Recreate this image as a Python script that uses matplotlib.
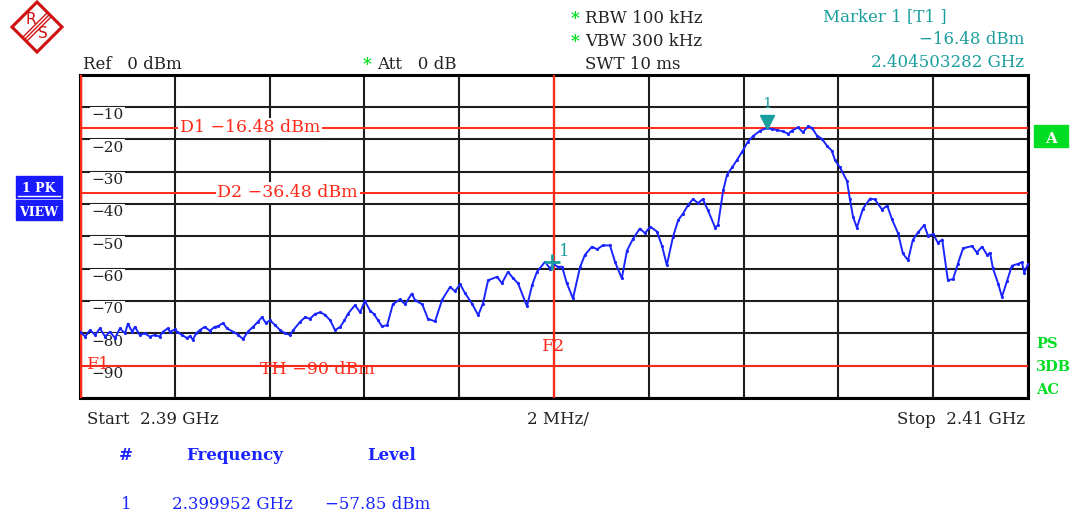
import matplotlib
matplotlib.use("Agg")
import matplotlib.pyplot as plt
from matplotlib.patches import Polygon, Rectangle
from matplotlib.lines import Line2D
from matplotlib.transforms import ScaledTranslation

plt.rcParams['font.family'] = ['DejaVu Serif']
plt.rcParams['font.size'] = 12

# span 2.39 GHz .. 2.41 GHz, offsets in MHz from start
f_start = 2390.0
f_stop = 2410.0
trace_off = [
    0.00, 0.11, 0.21, 0.32, 0.42, 0.53, 0.63, 0.74, 0.84, 0.95, 1.01, 1.10, 1.16, 1.26,
    1.37, 1.47, 1.58, 1.68, 1.75, 1.85, 1.90, 2.00, 2.05, 2.15, 2.26, 2.32, 2.38, 2.45,
    2.53, 2.63, 2.74, 2.84, 2.91, 3.02, 3.10, 3.23, 3.34, 3.44, 3.54, 3.65, 3.75, 3.84,
    3.92, 4.01, 4.12, 4.22, 4.33, 4.43, 4.50, 4.64, 4.75, 4.85, 4.96,
    5.07, 5.17, 5.28, 5.38, 5.49, 5.58, 5.65, 5.80, 5.91, 6.01, 6.12, 6.20, 6.29, 6.37,
    6.48, 6.60, 6.75, 6.86, 7.00, 7.07, 7.22, 7.34, 7.49, 7.64, 7.81, 7.91, 8.02, 8.12,
    8.27, 8.40, 8.50, 8.61, 8.80, 8.90, 9.03, 9.14, 9.24, 9.43, 9.54, 9.64, 9.81, 9.92,
    9.98, 10.08, 10.17, 10.27, 10.40, 10.55, 10.65, 10.80, 10.91, 11.03, 11.18, 11.29,
    11.43, 11.54, 11.67, 11.81, 11.92, 12.03, 12.17, 12.28, 12.38, 12.51, 12.62, 12.72,
    12.83, 12.93, 13.04, 13.14, 13.25, 13.40, 13.46, 13.57, 13.65, 13.76, 13.86, 13.97,
    14.09, 14.20, 14.35, 14.49, 14.60, 14.70, 14.83, 14.94, 15.02, 15.15, 15.25, 15.36,
    15.44, 15.55, 15.65, 15.76, 15.86, 15.93, 16.03, 16.18, 16.24, 16.31, 16.39, 16.52,
    16.67, 16.77, 16.92, 17.03, 17.13, 17.26, 17.36, 17.47, 17.57, 17.68, 17.81, 17.89,
    18.00, 18.10, 18.19, 18.31, 18.42, 18.52, 18.63, 18.82, 18.92, 19.03, 19.14, 19.20,
    19.26, 19.37, 19.45, 19.56, 19.66, 19.79, 19.87, 19.92, 20.00,
]
trace_dbm = [
    -79.5, -81.0, -79.0, -80.5, -78.5, -81.0, -79.5, -81.5, -78.5, -80.0, -77.0, -79.5, -78.0, -80.5,
    -80.0, -81.0, -80.5, -81.0, -79.5, -78.5, -79.5, -78.8, -79.5, -80.5, -81.5, -80.8, -82.0, -80.0,
    -79.0, -78.0, -79.2, -78.0, -77.8, -76.8, -78.5, -79.5, -80.5, -81.8, -79.5, -78.0, -76.5, -75.0,
    -76.8, -76.0, -77.5, -79.0, -80.0, -80.5, -79.0, -76.5, -75.0, -75.5, -74.0,
    -73.5, -74.3, -76.0, -79.0, -78.0, -76.0, -74.0, -71.3, -73.5, -70.0, -73.0, -74.0, -76.0, -77.8,
    -77.5, -71.0, -69.5, -71.0, -67.7, -69.8, -71.0, -75.5, -76.3, -69.6, -65.6, -67.0, -64.8, -67.5,
    -70.8, -74.4, -70.8, -63.6, -62.5, -64.5, -61.0, -63.0, -64.5, -71.6, -65.0, -61.0, -57.9, -60.0,
    -58.5, -59.4, -59.4, -64.5, -69.2, -59.5, -55.8, -53.2, -54.0, -52.8, -52.8, -58.0,
    -63.0, -54.4, -50.7, -47.6, -49.0, -47.0, -48.5, -53.0, -58.9, -50.2, -45.0, -43.0,
    -40.3, -38.5, -39.7, -38.5, -42.0, -47.3, -46.5, -35.7, -31.0, -28.6, -26.4, -23.8,
    -20.7, -19.0, -17.3, -16.5, -16.8, -17.1, -17.5, -18.3, -17.3, -16.3, -17.8, -16.0,
    -16.4, -18.9, -19.8, -22.0, -23.5, -26.5, -28.6, -32.8, -38.3, -44.0, -47.3, -41.4,
    -38.3, -38.6, -41.7, -40.5, -44.7, -49.1, -55.3, -57.4, -51.1, -48.8, -46.5, -49.8,
    -49.3, -52.0, -51.0, -63.6, -63.2, -58.5, -53.7, -53.0, -55.0, -53.2, -55.8, -55.1,
    -59.9, -64.6, -68.7, -63.7, -59.1, -58.5, -58.0, -61.2, -58.6,
]

y_ticks = [-10, -20, -30, -40, -50, -60, -70, -80, -90]
d1_level = -16.48
d2_level = -36.48
th_level = -90.0
f1_freq = 2390.0
f2_freq = 2400.0
m1_freq = 2404.503282
m1_level = -16.48
m2_freq = 2399.952
m2_level = -57.85

RED = '#ff2a1a'
BLUE = '#1a24ff'
TEAL = '#1a9e9e'
GREEN = '#00dd22'
GRID = '#1e1e1e'
INK = '#222222'

W, H = 1071, 516


def px(x, y):
    return x / W, 1 - y / H


fig = plt.figure(figsize=(W / 100, H / 100), dpi=100)
ax = fig.add_axes([80 / W, (H - 398) / H, 948 / W, 323.3 / H])
ax.set_xlim(f_start, f_stop)
ax.set_ylim(-100, 0)
ax.set_xticks([f_start + 2 * i for i in range(11)])
ax.set_yticks(range(-100, 1, 10))
ax.grid(True, color=GRID, lw=1.5)
ax.tick_params(length=0, labelbottom=False, labelleft=False)
for s in ax.spines.values():
    s.set_linewidth(2.2)
    s.set_color('black')

# level labels inside the grid
for v in y_ticks:
    ax.annotate('\u2212' + str(abs(v)), xy=(0.012, v), xycoords=('axes fraction', 'data'),
                xytext=(0, -1), textcoords='offset points', va='top', ha='left',
                fontsize=11, color=INK,
                bbox=dict(boxstyle='square,pad=0.1', fc='white', ec='none'), zorder=2)

# display lines and limits
for lvl, name, xlab in [(d1_level, 'D1', 0.105), (d2_level, 'D2', 0.145)]:
    ax.axhline(lvl, color=RED, lw=1.4, zorder=3)
    ax.text(xlab, lvl, '%s \u2212%.2f dBm' % (name, abs(lvl)), transform=ax.get_yaxis_transform(),
            color=RED, va='center', ha='left', fontsize=12.5,
            bbox=dict(boxstyle='square,pad=0.1', fc='white', ec='none'), zorder=4)
ax.axhline(th_level, color=RED, lw=1.4, zorder=3)
ax.text(0.19, th_level - 1.2, 'TH \u221290 dBm', transform=ax.get_yaxis_transform(),
        color=RED, va='center', ha='left', fontsize=12.5, zorder=4)
ax.axvline(f1_freq, color=RED, lw=2.5, zorder=3)
ax.axvline(f2_freq, color=RED, lw=1.6, zorder=3)
ax.text(f1_freq + 0.15, th_level + 0.5, 'F1', color=RED, fontsize=12.5, va='center', zorder=4)
ax.text(f2_freq - 0.25, -84.0, 'F2', color=RED, fontsize=12.5, va='center', zorder=4)

# trace
trace_f = [f_start + o for o in trace_off]
ax.plot(trace_f, trace_dbm, color=BLUE, lw=1.4, marker='.', ms=2.5, zorder=5)

# markers
lift = ScaledTranslation(0, 6 / 100, fig.dpi_scale_trans)
ax.plot([m1_freq], [m1_level], marker='v', color=TEAL, ms=10, zorder=6,
        transform=ax.transData + lift)
ax.annotate('1', xy=(m1_freq, m1_level), xytext=(0, 12), textcoords='offset points',
            color=TEAL, ha='center', va='bottom', fontsize=11, zorder=6)
ax.plot([m2_freq], [m2_level], marker='+', color=TEAL, ms=11, mew=2, zorder=6)
ax.annotate('1', xy=(m2_freq, m2_level), xytext=(5, 1), textcoords='offset points',
            color=TEAL, ha='left', va='bottom', fontsize=12, zorder=6)

# header
fig.text(*px(83, 69), 'Ref   0 dBm', color=INK)
fig.text(*px(363, 69), '*', color=GREEN, weight='bold')
fig.text(*px(377, 69), 'Att   0 dB', color=INK)
fig.text(*px(571, 23), '*', color=GREEN, weight='bold')
fig.text(*px(585, 23), 'RBW 100 kHz', color=INK)
fig.text(*px(571, 46), '*', color=GREEN, weight='bold')
fig.text(*px(585, 46), 'VBW 300 kHz', color=INK)
fig.text(*px(585, 69), 'SWT 10 ms', color=INK)
fig.text(*px(885, 21), 'Marker 1 [T1 ]', color=TEAL, ha='center')
fig.text(*px(1024, 44), '\u221216.48 dBm', color=TEAL, ha='right')
fig.text(*px(1024, 67), '2.404503282 GHz', color=TEAL, ha='right')

# footer
fig.text(*px(87, 424), 'Start  2.39 GHz', color=INK)
fig.text(*px(558, 424), '2 MHz/', color=INK, ha='center')
fig.text(*px(1025, 424), 'Stop  2.41 GHz', color=INK, ha='right')
fig.text(*px(126, 460), '#', color=BLUE, weight='bold', ha='center')
fig.text(*px(235, 460), 'Frequency', color=BLUE, weight='bold', ha='center')
fig.text(*px(392, 460), 'Level', color=BLUE, weight='bold', ha='center')
fig.text(*px(126, 509), '1', color=BLUE, ha='center')
fig.text(*px(232, 509), '2.399952 GHz', color=BLUE, ha='center')
fig.text(*px(378, 509), '\u221257.85 dBm', color=BLUE, ha='center')

# side labels
fig.patches.append(Rectangle(px(16, 198), 46 / W, 22 / H, transform=fig.transFigure, color='#1a1aff'))
fig.patches.append(Rectangle(px(16, 220), 46 / W, 20 / H, transform=fig.transFigure, color='#1a1aff'))
fig.text(*px(39, 192), '1 PK', fontsize=9, color='white', weight='bold', ha='center')
fig.text(*px(39, 216), 'VIEW', fontsize=9, color='white', weight='bold', ha='center')
fig.lines.append(Line2D([18 / W, 60 / W], [1 - 196 / H] * 2, transform=fig.transFigure, color='white', lw=1))
fig.patches.append(Rectangle(px(1034, 147), 34 / W, 22 / H, transform=fig.transFigure, color=GREEN))
fig.text(*px(1051, 143), 'A', fontsize=11, color='white', weight='bold', ha='center')
for yy, s in [(348, 'PS'), (371, '3DB'), (394, 'AC')]:
    fig.text(*px(1036, yy), s, fontsize=10.5, color=GREEN, weight='bold')

# R&S logo
cx, cy, r = 37, 27, 25
logo = Polygon([px(cx, cy - r), px(cx + r, cy), px(cx, cy + r), px(cx - r, cy)],
               closed=True, transform=fig.transFigure, fill=False, ec='#d01010', lw=2.2)
fig.patches.append(logo)
for d in (-2.0, 0, 2.0):
    x0, y0 = cx + r / 2 + d, cy - r / 2 + d
    x1, y1 = cx - r / 2 + d, cy + r / 2 + d
    fig.lines.append(Line2D([x0 / W, x1 / W], [1 - y0 / H, 1 - y1 / H],
                            transform=fig.transFigure, color='#d01010', lw=1.0))
fig.text(*px(cx - 6, cy - 8), 'R', fontsize=11, color='#d01010', ha='center', va='center',
         family='DejaVu Sans')
fig.text(*px(cx + 6, cy + 7), 'S', fontsize=11, color='#d01010', ha='center', va='center',
         family='DejaVu Sans')

fig.savefig('out.png', dpi=100)
